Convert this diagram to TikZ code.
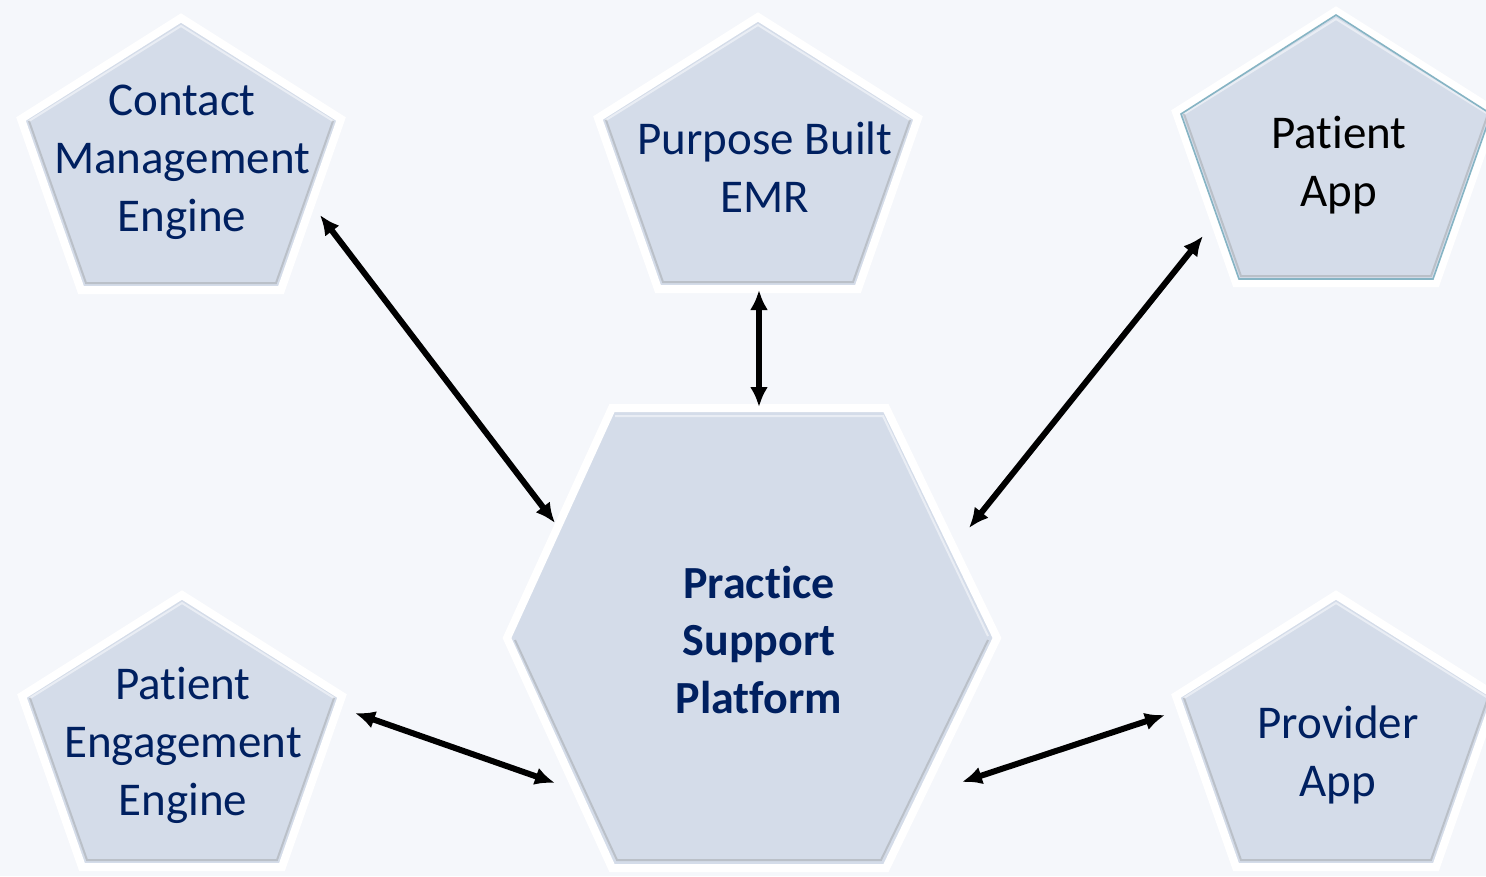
\documentclass[tikz,border=0pt]{standalone}
\usepackage{fontspec}
\setmainfont{Carlito}[Ligatures={NoCommon,NoRare,NoContextual}]
\usetikzlibrary{arrows.meta,shadows}

\definecolor{pagebg}{HTML}{F5F7FB}
\definecolor{panelfill}{HTML}{D4DCE9}
\definecolor{navy}{HTML}{002060}
\definecolor{rimteal}{HTML}{86B4C4}

% break a font ligature
\newcommand{\nolig}{\kern0pt}

\tikzset{
  panel/.style={
    fill=panelfill,
    draw=white,
    line width=8pt,
    line join=miter,
    drop shadow={shadow xshift=1pt, shadow yshift=-3pt, opacity=.25, fill=black!70}
  },
  bevel dark/.style={draw=black!45, line width=2pt, opacity=.35},
  bevel light/.style={draw=white, line width=2pt, opacity=.5},
  % pentagon hung from its top corner
  pentagon/.pic={
    \path[panel] (0,5) -- (160,106) -- (100,277) -- (-100,277) -- (-160,106) -- cycle;
    \draw[bevel light] (-152,108) -- (0,13) -- (152,108);
    \draw[bevel dark] (-152,108) -- (-95,270) -- (95,270) -- (152,108);
  },
  pentarim/.pic={
    \draw[rimteal, line width=1.6pt] (0,9) -- (155,108) -- (97,273) -- (-97,273) -- (-155,108) -- cycle;
  },
  pentatext/.style={
    align=center,
    inner sep=0pt,
    text=navy,
    font=\fontsize{47}{58}\selectfont
  },
  hubtext/.style={
    pentatext,
    font=\fontsize{46}{57.5}\selectfont\bfseries
  },
  link/.style={
    {Latex[length=20pt,width=18pt]}-{Latex[length=20pt,width=18pt]},
    line width=6pt
  }
}

\begin{document}
\begin{tikzpicture}[x=1pt, y=-1pt]

  \useasboundingbox[fill=pagebg] (0,0) rectangle (1486,876);

  % shapes
  \pic at (181,13) {pentagon};
  \pic at (758,12) {pentagon};
  \pic at (1336,6) {pentagon};
  \pic at (1336,6) {pentarim};
  \pic at (182,590) {pentagon};
  \pic at (1336,590) {pentagon};

  \path[panel] (612,408) -- (886,408) -- (997,638) -- (886,868) -- (612,868) -- (507,638) -- cycle;
  \draw[bevel light] (615,416) -- (883,416) -- (988,636);
  \draw[bevel dark] (515,640) -- (617,860) -- (881,860) -- (988,640);

  % texts
  \node[pentatext] (cme) at (182,162) {Contact\\Management\\Engine};
  \node[pentatext] (emr) at (765,167) {Purpose Built\\EMR};
  \node[pentatext, text=black] (papp) at (1339,165) {Pat\nolig ient\\App};
  \node[pentatext] (pee) at (183,745) {Pat\nolig ient\\Engagement\\Engine};
  \node[pentatext] (prov) at (1338,755) {Provider\\App};
  \node[hubtext] (psp) at (759,640) {Pract\nolig ice\\Support\\Plat\nolig form};

  % arrow ends
  \coordinate (cme-out) at (320,215);
  \coordinate (emr-out) at (759,290);
  \coordinate (papp-out) at (1203,236);
  \coordinate (pee-out) at (355,713);
  \coordinate (prov-out) at (1165,715);

  \coordinate (psp-nw) at (555,523);
  \coordinate (psp-n) at (759,407);
  \coordinate (psp-ne) at (969,528);
  \coordinate (psp-sw) at (555,783);
  \coordinate (psp-se) at (962,782);

  \draw[link] (cme-out) -- (psp-nw);
  \draw[link] (emr-out) -- (psp-n);
  \draw[link] (papp-out) -- (psp-ne);
  \draw[link] (pee-out) -- (psp-sw);
  \draw[link] (prov-out) -- (psp-se);

\end{tikzpicture}
\end{document}
